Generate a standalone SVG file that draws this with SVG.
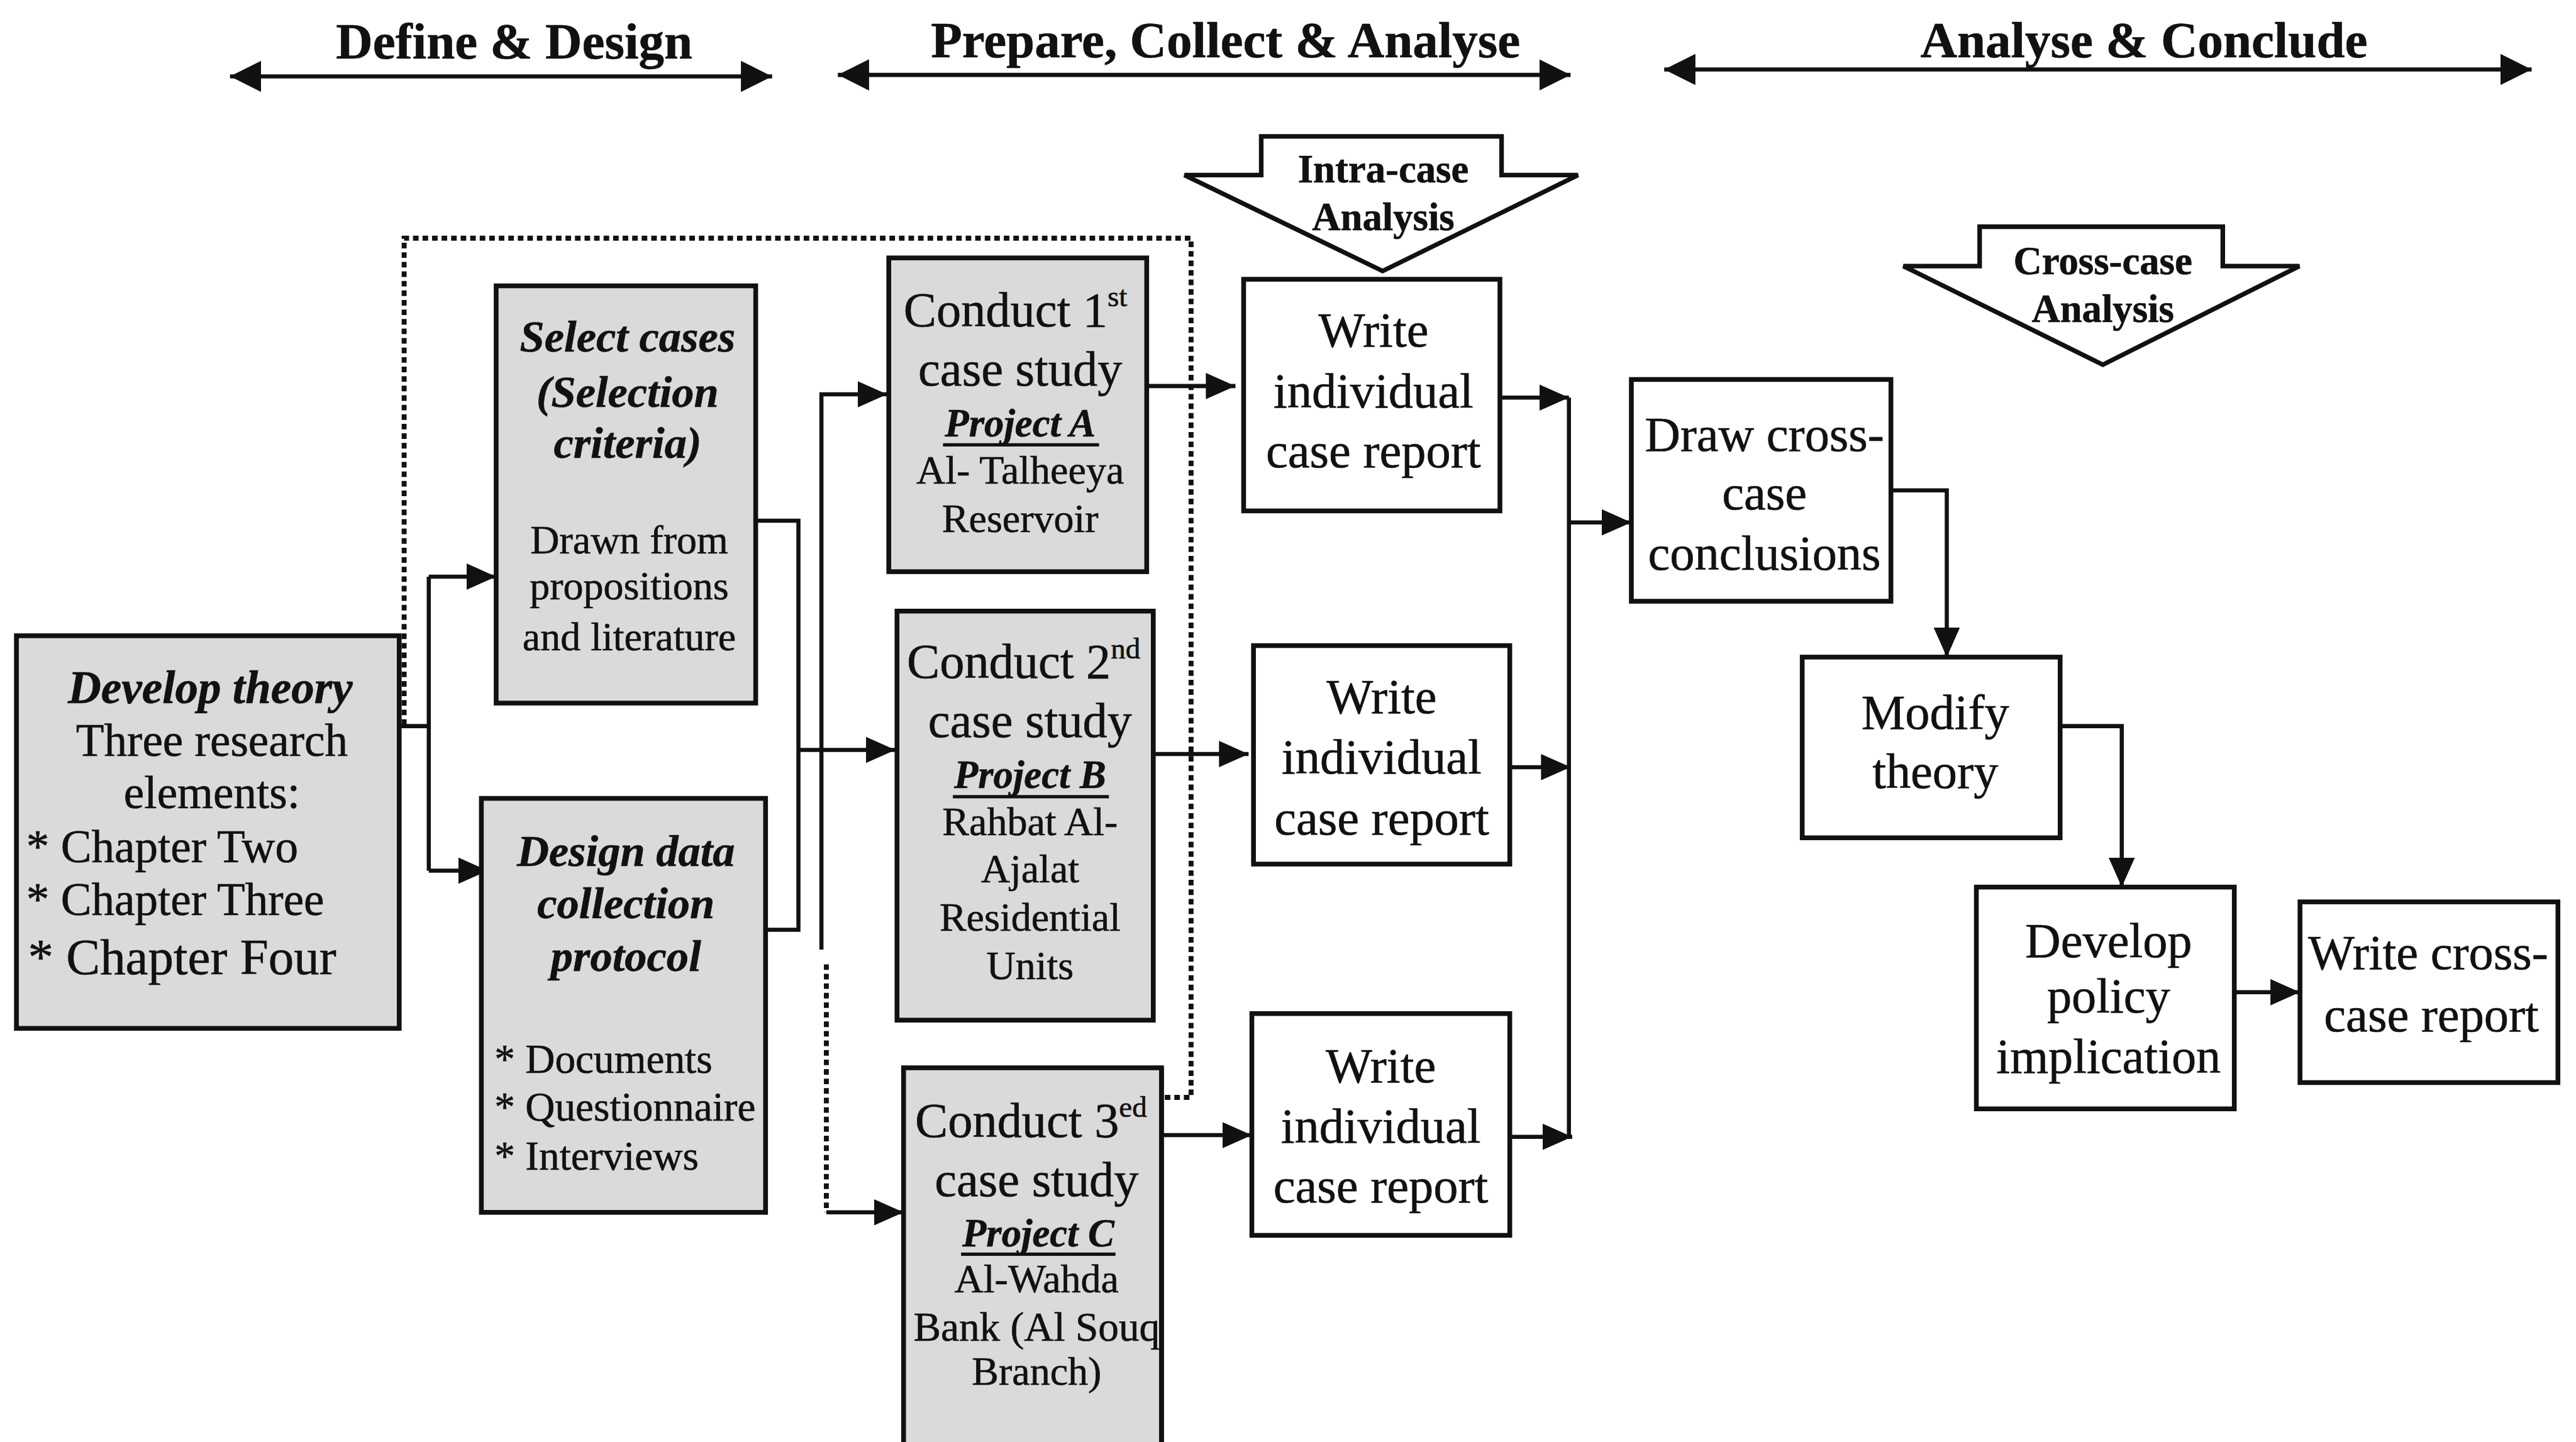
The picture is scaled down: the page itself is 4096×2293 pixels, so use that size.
<svg xmlns="http://www.w3.org/2000/svg" width="4096" height="2293" viewBox="0 0 4096 2293">
  <style>
    .box { stroke: #111; stroke-width: 2.9; }
    .shaded { fill: #dadada; }
    .plain { fill: #fff; }
    .conn { fill: none; stroke: #111; stroke-width: 2.5; }
    .arr { fill: none; stroke: #111; stroke-width: 2.5; marker-end: url(#tri); }
    .dot { fill: none; stroke: #111; stroke-width: 3; stroke-dasharray: 3.4 2.4; }
    .phase { fill: none; stroke: #111; stroke-width: 2.5; marker-start: url(#head); marker-end: url(#head); }
    .block { fill: #fff; stroke: #111; stroke-width: 2.8; stroke-linejoin: miter; }
    .ul { stroke: #111; stroke-width: 2; }
    text { font-family: "Liberation Serif", "Times New Roman", serif; fill: #111; stroke: #111; stroke-width: 0.25; }
    .c { text-anchor: middle; }
    .b { font-weight: bold; }
    .bi { font-weight: bold; font-style: italic; }
    .t31 { font-size: 31px; }
    .t30 { font-size: 30px; }
    .t28 { font-size: 28px; }
    .t27 { font-size: 27px; }
    .t25 { font-size: 25px; }
    .t24 { font-size: 24.5px; }
    .lbl { font-size: 24px; font-weight: bold; }
  </style>
  <defs>
    <marker id="tri" viewBox="0 0 18 16" refX="18" refY="8" markerWidth="18" markerHeight="16" markerUnits="userSpaceOnUse" orient="auto">
      <path d="M0,0 L18,8 L0,16 Z" fill="#111"/>
    </marker>
    <marker id="head" viewBox="0 0 19 19" refX="19" refY="9.5" markerWidth="19" markerHeight="19" markerUnits="userSpaceOnUse" orient="auto-start-reverse">
      <path d="M0,0 L19,9.5 L0,19 Z" fill="#111"/>
    </marker>
    <clipPath id="clipCase3">
      <rect x="550" y="650" width="157" height="240"/>
    </clipPath>
  </defs>

  <rect width="4096" height="2293" fill="#fff"/>

  <g transform="scale(2.6122449)">

    <!-- phase headings -->
    <g id="phase-define">
      <text class="b t31 c" x="313" y="35.5">Define &amp; Design</text>
      <path class="phase" d="M140,46.5 H470"/>
    </g>
    <g id="phase-prepare">
      <text class="b t31 c" x="746" y="35">Prepare, Collect &amp; Analyse</text>
      <path class="phase" d="M510,45.6 H956"/>
    </g>
    <g id="phase-conclude">
      <text class="b t31 c" x="1305" y="35">Analyse &amp; Conclude</text>
      <path class="phase" d="M1013,42.3 H1541"/>
    </g>

    <!-- analysis block arrows -->
    <g id="intra-case">
      <polygon class="block" points="767.7,83 914,83 914,106.6 960.5,106.6 841.6,165 721,106.6 767.7,106.6"/>
      <text class="lbl c" x="842" y="111">Intra-case</text>
      <text class="lbl c" x="842" y="140">Analysis</text>
    </g>
    <g id="cross-case">
      <polygon class="block" points="1205,138 1353,138 1353,162 1399.6,162 1280,222 1158.6,162 1205,162"/>
      <text class="lbl c" x="1280" y="167">Cross-case</text>
      <text class="lbl c" x="1280" y="196">Analysis</text>
    </g>

    <!-- connectors -->
    <g id="connectors">
      <!-- dotted loop around the case selection stage -->
      <path class="dot" d="M709,668 H725 V145 H246 V441"/>
      <!-- develop theory to select / design -->
      <path class="conn" d="M243,442 H261"/>
      <path class="conn" d="M261,351 V530"/>
      <path class="arr" d="M261,351 H302"/>
      <path class="arr" d="M261,530 H297"/>
      <!-- select / design merge -->
      <path class="conn" d="M460,317 H486 V566 H466"/>
      <path class="arr" d="M486,456.5 H545"/>
      <!-- feed to case studies -->
      <path class="arr" d="M500,578 V240 H540"/>
      <path class="dot" d="M503,587 V738"/>
      <path class="arr" d="M503,738 H550"/>
      <!-- case studies to individual reports -->
      <path class="arr" d="M698,235 H752"/>
      <path class="arr" d="M702,459 H760"/>
      <path class="arr" d="M707,691 H762"/>
      <!-- individual reports to collector -->
      <path class="arr" d="M913,242 H955"/>
      <path class="arr" d="M919,467 H956"/>
      <path class="arr" d="M919,692 H957"/>
      <path class="conn" d="M955,242 V692"/>
      <path class="arr" d="M955,318 H993"/>
      <!-- cross-case chain -->
      <path class="arr" d="M1151,298.5 H1185 V400"/>
      <path class="arr" d="M1254,442 H1291.5 V540"/>
      <path class="arr" d="M1360,604 H1400"/>
    </g>

    <!-- define & design stage -->
    <g id="develop-theory">
      <rect class="box shaded" x="10" y="387" width="233" height="239"/>
      <text class="bi t28 c" x="128" y="428">Develop theory</text>
      <text class="t28 c" x="129" y="460">Three research</text>
      <text class="t28 c" x="129" y="492">elements:</text>
      <text class="t28" x="16" y="525">* Chapter Two</text>
      <text class="t28" x="16" y="557">* Chapter Three</text>
      <text class="t31" x="17" y="593">* Chapter Four</text>
    </g>

    <g id="select-cases">
      <rect class="box shaded" x="302" y="174" width="158" height="254"/>
      <text class="bi t27 c" x="382" y="214">Select cases</text>
      <text class="bi t27 c" x="382" y="247.7">(Selection</text>
      <text class="bi t27 c" x="382" y="278.8">criteria)</text>
      <text class="t24 c" x="383" y="337">Drawn from</text>
      <text class="t24 c" x="383" y="365">propositions</text>
      <text class="t24 c" x="383" y="396">and literature</text>
    </g>

    <g id="design-protocol">
      <rect class="box shaded" x="293" y="486" width="173" height="252"/>
      <text class="bi t27 c" x="381" y="527">Design data</text>
      <text class="bi t27 c" x="381" y="559">collection</text>
      <text class="bi t27 c" x="381" y="591">protocol</text>
      <text class="t25" x="301" y="653">* Documents</text>
      <text class="t25" x="301" y="682">* Questionnaire</text>
      <text class="t25" x="301" y="712">* Interviews</text>
    </g>

    <!-- case studies -->
    <g id="case-study-1">
      <rect class="box shaded" x="541" y="157" width="157" height="191"/>
      <text class="t30" x="550" y="198.6">Conduct 1<tspan font-size="18" dy="-12">st</tspan></text>
      <text class="t30 c" x="621" y="234.7">case study</text>
      <text class="bi c" font-size="24" x="621" y="265.8">Project A</text>
      <line class="ul" x1="574" y1="270.8" x2="669" y2="270.8"/>
      <text class="t24 c" x="621" y="294.5">Al- Talheeya</text>
      <text class="t24 c" x="621" y="324">Reservoir</text>
    </g>

    <g id="case-study-2">
      <rect class="box shaded" x="546" y="372" width="156" height="249"/>
      <text class="t30" x="552" y="412.7">Conduct 2<tspan font-size="18" dy="-12">nd</tspan></text>
      <text class="t30 c" x="627" y="448.7">case study</text>
      <text class="bi c" font-size="24" x="627" y="479.8">Project B</text>
      <line class="ul" x1="580" y1="485" x2="675" y2="485"/>
      <text class="t24 c" x="627" y="508.5">Rahbat Al-</text>
      <text class="t24 c" x="627" y="537">Ajalat</text>
      <text class="t24 c" x="627" y="566.5">Residential</text>
      <text class="t24 c" x="627" y="596">Units</text>
    </g>

    <g id="case-study-3">
      <rect class="box shaded" x="550" y="650" width="157" height="240"/>
      <text class="t30" x="557" y="692">Conduct 3<tspan font-size="18" dy="-12">ed</tspan></text>
      <text class="t30 c" x="631" y="728">case study</text>
      <text class="bi c" font-size="24" x="632" y="758.7">Project C</text>
      <line class="ul" x1="585" y1="763.5" x2="679" y2="763.5"/>
      <text class="t24 c" x="631" y="786.8">Al-Wahda</text>
      <text class="t25" x="556" y="816" clip-path="url(#clipCase3)">Bank (Al Souq</text>
      <text class="t24 c" x="631" y="843">Branch)</text>
      <line x1="707" y1="650" x2="707" y2="890" stroke="#111" stroke-width="2.9"/>
    </g>

    <!-- individual case reports -->
    <g id="report-1">
      <rect class="box plain" x="757" y="170" width="156" height="141"/>
      <text class="t30 c" x="836" y="211">Write</text>
      <text class="t30 c" x="836" y="248">individual</text>
      <text class="t30 c" x="836" y="284.5">case report</text>
    </g>
    <g id="report-2">
      <rect class="box plain" x="763" y="393" width="156" height="133"/>
      <text class="t30 c" x="841" y="434">Write</text>
      <text class="t30 c" x="841" y="471">individual</text>
      <text class="t30 c" x="841" y="508">case report</text>
    </g>
    <g id="report-3">
      <rect class="box plain" x="762" y="617" width="157" height="135"/>
      <text class="t30 c" x="840.5" y="659">Write</text>
      <text class="t30 c" x="840.5" y="695.5">individual</text>
      <text class="t30 c" x="840.5" y="732">case report</text>
    </g>

    <!-- analyse & conclude stage -->
    <g id="cross-conclusions">
      <rect class="box plain" x="993" y="231" width="158" height="135"/>
      <text class="t30 c" x="1074" y="274.4">Draw cross-</text>
      <text class="t30 c" x="1074" y="310">case</text>
      <text class="t30 c" x="1074" y="347">conclusions</text>
    </g>
    <g id="modify-theory">
      <rect class="box plain" x="1097" y="400" width="157" height="110"/>
      <text class="t30 c" x="1178" y="443.6">Modify</text>
      <text class="t30 c" x="1178" y="479.5">theory</text>
    </g>
    <g id="policy-implication">
      <rect class="box plain" x="1203" y="540" width="157" height="135"/>
      <text class="t30 c" x="1283.5" y="582.6">Develop</text>
      <text class="t30 c" x="1283.5" y="616.5">policy</text>
      <text class="t30 c" x="1283.5" y="653">implication</text>
    </g>
    <g id="cross-report">
      <rect class="box plain" x="1400" y="549" width="157" height="110"/>
      <text class="t30 c" x="1478" y="590">Write cross-</text>
      <text class="t30 c" x="1480" y="628">case report</text>
    </g>
  </g>
</svg>
